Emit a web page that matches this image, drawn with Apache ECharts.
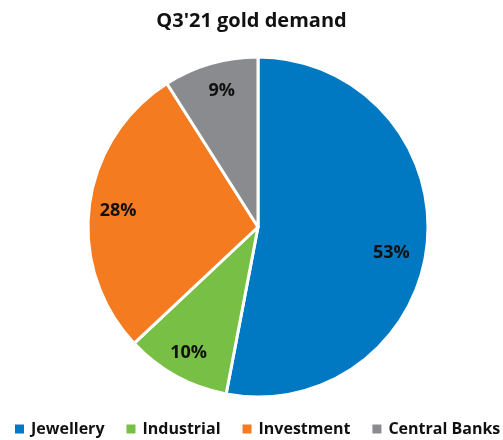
<!DOCTYPE html>
<html><head><meta charset="utf-8">
<script src="https://cdn.jsdelivr.net/npm/echarts@6/dist/echarts.min.js"></script>
<style>html,body{margin:0;padding:0;background:#fff}#c{width:503px;height:440px}</style>
</head><body><div id="c"></div>
<script>
const categories = ['Jewellery', 'Industrial', 'Investment', 'Central Banks'];
const values = [53, 10, 28, 9];
const colors = ['#0079C2', '#78BF45', '#F47B20', '#8A8B8E'];
const labelOffsets = [[-10, 12], [0, 0], [3, 2], [4, 2]];

const data = categories.map((n, i) => ({ name: n, value: values[i], itemStyle: { color: colors[i] } }));
const chart = echarts.init(document.getElementById('c'));
chart.setOption({
  animation: false,
  title: { text: "Q3'21 gold demand", left: 'center', top: 6,
    textStyle: { fontFamily: 'Open Sans', fontWeight: 'bold', fontSize: 20, color: '#111' } },
  legend: {
    bottom: 3, left: 13, width: 500, padding: 0, itemWidth: 11, itemHeight: 11, itemGap: 20, icon: 'rect',
    data: categories,
    textStyle: { fontFamily: 'Open Sans', fontWeight: 'bold', fontSize: 16, color: '#111', padding: [0, 0, 0, 1] }
  },
  series: [{
    type: 'pie', center: [258, 227], radius: [0, 170], startAngle: 90, clockwise: true,
    data: data,
    label: { show: false }, labelLine: { show: false },
    itemStyle: { borderColor: '#fff', borderWidth: 3 },
    silent: true
  }, {
    type: 'pie', center: [258, 227], radius: [112, 170], startAngle: 90, clockwise: true,
    data: data.map((d, i) => ({ name: d.name, value: d.value, itemStyle: { color: 'rgba(0,0,0,0)' },
      label: { offset: labelOffsets[i] } })),
    label: { show: true, position: 'inside', formatter: '{c}%',
      fontFamily: 'Open Sans', fontWeight: 'bold', fontSize: 18, color: '#111' },
    labelLine: { show: false },
    itemStyle: { borderWidth: 0 },
    silent: true, legendHoverLink: false
  }]
});
</script></body></html>
